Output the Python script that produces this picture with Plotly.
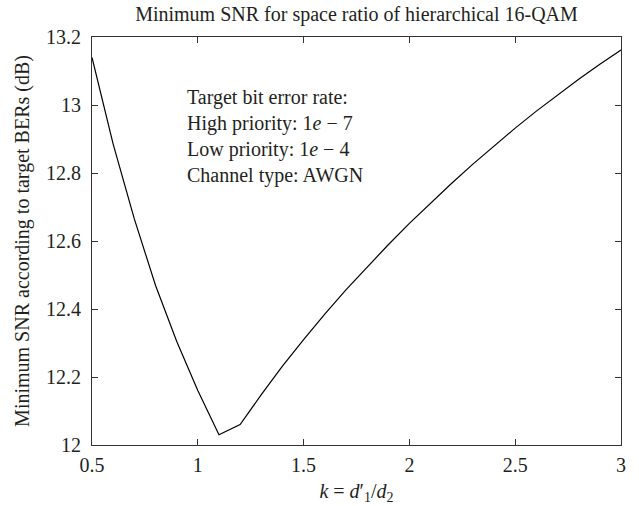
import plotly.graph_objects as go

# Space ratio k = d'1/d2 and the minimum SNR (dB) that meets both target BERs
k_values = [0.5, 0.6, 0.7, 0.8, 0.9, 1.0, 1.1, 1.2, 1.3, 1.4, 1.5, 1.6, 1.7,
            1.8, 1.9, 2.0, 2.1, 2.2, 2.3, 2.4, 2.5, 2.6, 2.7, 2.8, 2.9, 3.0]
min_snr_db = [13.14, 12.885, 12.665, 12.47, 12.305, 12.16, 12.03, 12.06, 12.148,
              12.232, 12.31, 12.385, 12.456, 12.524, 12.589, 12.652, 12.712,
              12.77, 12.826, 12.88, 12.932, 12.982, 13.03, 13.076, 13.12, 13.162]

x_ticks = [0.5, 1, 1.5, 2, 2.5, 3]
x_tick_labels = ["0.5", "1", "1.5", "2", "2.5", "3"]
y_ticks = [12, 12.2, 12.4, 12.6, 12.8, 13, 13.2]
y_tick_labels = ["12", "12.2", "12.4", "12.6", "12.8", "13", "13.2"]

info_lines = [
    "Target bit error rate:",
    "High priority: 1<i>e</i> − 7",
    "Low priority: 1<i>e</i> − 4",
    "Channel type: AWGN",
]

FONT = "Liberation Serif"
SIZE = 20
INK = "#231f20"

fig = go.Figure()
fig.add_trace(go.Scatter(
    x=k_values, y=min_snr_db, mode="lines",
    line=dict(color="black", width=1.2),
    showlegend=False, hoverinfo="x+y",
))

axis_common = dict(
    showline=True, linecolor="#333", linewidth=1.2, mirror="ticks",
    ticks="inside", ticklen=6, tickwidth=1, tickcolor="#333",
    showgrid=False, zeroline=False, automargin=False,
    tickfont=dict(family=FONT, size=SIZE, color=INK),
)

fig.update_xaxes(
    range=[0.5, 3], tickvals=x_ticks, ticktext=x_tick_labels,
    ticklabelstandoff=2,
    title=dict(text="<i>k</i> = <i>d</i>′<sub>1</sub>/<i>d</i><sub>2</sub>",
               font=dict(family=FONT, size=SIZE, color=INK), standoff=8),
    **axis_common,
)
fig.update_yaxes(
    range=[12, 13.2], tickvals=y_ticks, ticktext=y_tick_labels,
    ticklabelstandoff=6,
    title=dict(text="Minimum SNR according to target BERs (dB)",
               font=dict(family=FONT, size=SIZE, color=INK), standoff=10),
    **axis_common,
)

fig.add_annotation(
    x=0.176, y=0.884, xref="paper", yref="paper",
    xanchor="left", yanchor="top", align="left", showarrow=False,
    text="<br>".join(info_lines),
    font=dict(family=FONT, size=SIZE, color=INK),
)

fig.update_layout(
    width=639, height=506,
    margin=dict(l=92, r=18, t=37, b=61),
    paper_bgcolor="white", plot_bgcolor="white",
    title=dict(text="Minimum SNR for space ratio of hierarchical 16-QAM",
               x=(92 + 621) / 2 / 639, xanchor="center",
               y=1 - 14 / 506, yanchor="middle", yref="container",
               font=dict(family=FONT, size=SIZE, color=INK)),
)

fig.write_html("out.html")
